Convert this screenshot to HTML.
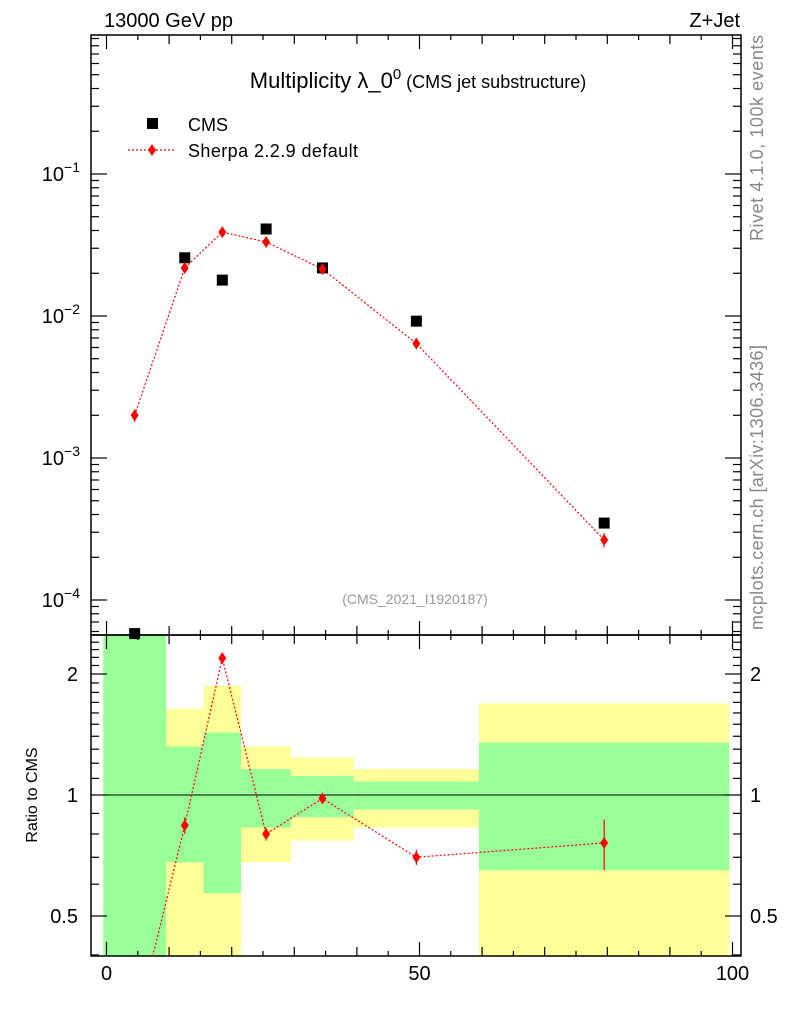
<!DOCTYPE html>
<html><head><meta charset="utf-8">
<style>
html,body{margin:0;padding:0;background:#fff;overflow:hidden;width:786px;height:1024px;}
svg{display:block;font-family:"Liberation Sans",sans-serif;}
</style></head>
<body>
<svg id="chart" width="786" height="1024" viewBox="0 0 786 1024" xmlns="http://www.w3.org/2000/svg">
<text x="104" y="27" font-size="20">13000 GeV pp</text>
<text x="740" y="27" font-size="20" text-anchor="end">Z+Jet</text>
<text x="418" y="88" font-size="22" text-anchor="middle">Multiplicity λ_0<tspan dy="-9" font-size="15">0</tspan><tspan dy="9" font-size="18"> (CMS jet substructure)</tspan></text>
<text x="415" y="604" font-size="14" fill="#999" text-anchor="middle">(CMS_2021_I1920187)</text>
<text transform="translate(763,241) rotate(-90)" font-size="18" fill="#888" textLength="206">Rivet 4.1.0,  100k events</text>
<text transform="translate(763,630) rotate(-90)" font-size="18" fill="#888" textLength="285">mcplots.cern.ch [arXiv:1306.3436]</text>
<text transform="translate(37,795) rotate(-90)" font-size="16" text-anchor="middle">Ratio to CMS</text>
<g>
<rect x="147" y="118" width="11" height="11" fill="#000"/>
<text x="188" y="131" font-size="18">CMS</text>
<line x1="128" y1="150" x2="176" y2="150" stroke="red" stroke-dasharray="2,2" stroke-width="1.2"/>
<path d="M152,144 L156,150 L152,156 L148,150Z" fill="red"/>
<text x="188" y="157" font-size="18" textLength="170">Sherpa 2.2.9 default</text>
</g>
<g id="bands"></g>
<g id="axes"></g>
<g id="marks"></g>
</svg>
<script>
const xCenters=[4.5,12.5,18.5,25.5,34.5,49.5,79.5];
const binEdges=[-0.5,9.5,15.5,21.5,29.5,39.5,59.5,99.5];
const cmsValues=[5.8e-5,0.0257,0.0179,0.041,0.0218,0.0092,3.48e-4];
const sherpaValues=[0.0020,0.0218,0.039,0.0332,0.0214,0.0064,2.65e-4];
const sherpaErrors=[0.0002,0.0012,0.002,0.0018,0.0011,0.0003,0.00003];
const ratioValues=[0.26,0.84,2.19,0.80,0.98,0.70,0.76];
const ratioErrors=[0.02,0.04,0.07,0.03,0.03,0.03,0.11];
const yellowHi=[3,1.64,1.87,1.32,1.24,1.16,1.69];
const yellowLo=[0.3,0.3,0.3,0.68,0.77,0.83,0.3];
const greenHi=[3,1.32,1.43,1.16,1.115,1.08,1.35];
const greenLo=[0.3,0.68,0.57,0.83,0.88,0.92,0.65];
const xTickLabels=[0,50,100];
const yTickLabels=[-1,-2,-3,-4];
const rTickLabels=[0.5,1,2];

const NS="http://www.w3.org/2000/svg";
const L=91,R=741,T=35,M=635,B=956;
const xs=v=>106.5+v*6.26;
const ys=v=>174-142*(Math.log10(v)+1);
const yr=v=>795-121*Math.log2(v);
function mk(tag,attrs,parent){const e=document.createElementNS(NS,tag);for(const k in attrs)e.setAttribute(k,attrs[k]);document.getElementById(parent).appendChild(e);return e;}

const clipR=v=>Math.max(M,Math.min(B,v));
for(let i=0;i<binEdges.length-1;i++){
  const x1=xs(binEdges[i]),x2=xs(binEdges[i+1]);
  let e=mk('rect',{x:x1,y:clipR(yr(yellowHi[i])),width:x2-x1,height:clipR(yr(yellowLo[i]))-clipR(yr(yellowHi[i])),fill:'#ffff99'},'bands');
  
  
  e=mk('rect',{x:x1,y:clipR(yr(greenHi[i])),width:x2-x1,height:clipR(yr(greenLo[i]))-clipR(yr(greenHi[i])),fill:'#99ff99'},'bands');
  
  
}
let f=mk('rect',{x:L,y:T,width:R-L,height:M-T,fill:'none',stroke:'#000','stroke-width':1.5},'axes');


f=mk('rect',{x:L,y:M,width:R-L,height:B-M,fill:'none',stroke:'#000','stroke-width':1.5},'axes');


let ref=mk('line',{x1:L,x2:R,y1:yr(1),y2:yr(1),stroke:'#000','stroke-width':1},'axes');


for(let v=0;v<=100;v+=5){
  const x=xs(v);const len=v%50===0?14:(v%10===0?9:5);
  for(const [y0,d] of [[T,1],[M,-1],[M,1],[B,-1]]){
    const t=mk('line',{x1:x,x2:x,y1:y0,y2:y0+d*len,stroke:'#000','stroke-width':1.2},'axes');
    
    
  }
}
xTickLabels.forEach(v=>{const t=mk('text',{x:xs(v),y:980,'font-size':20,'text-anchor':'middle'},'axes');t.textContent=v;

});
for(let d=-5;d<=-1;d++){for(let m=1;m<10;m++){const v=m*Math.pow(10,d);const y=ys(v);if(y<T||y>M)continue;const len=m===1?16:8;
 for(const [x0,s] of [[L,1],[R,-1]]){const t=mk('line',{x1:x0,x2:x0+s*len,y1:y,y2:y,stroke:'#000','stroke-width':1.2},'axes');
 
 }}}
yTickLabels.forEach(p=>{const t=mk('text',{x:80,y:ys(Math.pow(10,p))+7,'font-size':20,'text-anchor':'end'},'axes');t.innerHTML='10<tspan dy="-9" font-size="14">'+(p<0?'\u2212':'')+Math.abs(p)+'</tspan>';

});
for(let v=0.35;v<=2.4;v+=0.05){const vv=Math.round(v*100)/100;const y=yr(vv);if(y<M||y>B)continue;
 const major=[0.5,1,2].includes(vv);const med=Math.abs(vv*10-Math.round(vv*10))<1e-6;
 const len=major?16:(med?8:0);if(!len)continue;
 for(const [x0,s] of [[L,1],[R,-1]]){const t=mk('line',{x1:x0,x2:x0+s*len,y1:y,y2:y,stroke:'#000','stroke-width':1.2},'axes');
 
 }}
rTickLabels.forEach(v=>{for(const [x,a] of [[78,'end'],[750,'start']]){const t=mk('text',{x:x,y:yr(v)+7,'font-size':20,'text-anchor':a},'axes');t.textContent=v;

}});
const clipT=v=>Math.max(T,Math.min(M,v));
let pts=xCenters.map((x,i)=>xs(x)+','+ys(sherpaValues[i])).join(' ');
let pl=mk('polyline',{points:pts,fill:'none',stroke:'red','stroke-width':1.2,'stroke-dasharray':'2,2'},'marks');


xCenters.forEach((x,i)=>{
  const cx=xs(x),cy=clipT(ys(cmsValues[i]));
  const s=mk('rect',{x:cx-5.5,y:cy-5.5,width:11,height:11,fill:'#000'},'marks');
  if(ys(cmsValues[i])>M){s.setAttribute('y',M-4);s.setAttribute('height',4);}
  
  
  const sy=ys(sherpaValues[i]);
  const e=mk('line',{x1:cx,x2:cx,y1:ys(sherpaValues[i]+sherpaErrors[i]),y2:ys(sherpaValues[i]-sherpaErrors[i]),stroke:'red','stroke-width':1.2},'marks');
  
  
  const d=mk('path',{d:`M${cx},${sy-6}L${cx+4},${sy}L${cx},${sy+6}L${cx-4},${sy}Z`,fill:'red'},'marks');
  
  
});
mk('clipPath',{id:'rc'},'marks').innerHTML=`<rect x="${L}" y="${M}" width="${R-L}" height="${B-M}"/>`;
pts=xCenters.map((x,i)=>xs(x)+','+yr(ratioValues[i])).join(' ');
pl=mk('polyline',{points:pts,fill:'none',stroke:'red','stroke-width':1.2,'stroke-dasharray':'2,2','clip-path':'url(#rc)'},'marks');


xCenters.forEach((x,i)=>{
  const cx=xs(x),cy=yr(ratioValues[i]);if(cy>B)return;
  const e=mk('line',{x1:cx,x2:cx,y1:yr(ratioValues[i]+ratioErrors[i]),y2:yr(ratioValues[i]-ratioErrors[i]),stroke:'red','stroke-width':1.2},'marks');
  
  
  const d=mk('path',{d:`M${cx},${cy-6}L${cx+4},${cy}L${cx},${cy+6}L${cx-4},${cy}Z`,fill:'red'},'marks');
  
  
});
</script>
</body></html>
